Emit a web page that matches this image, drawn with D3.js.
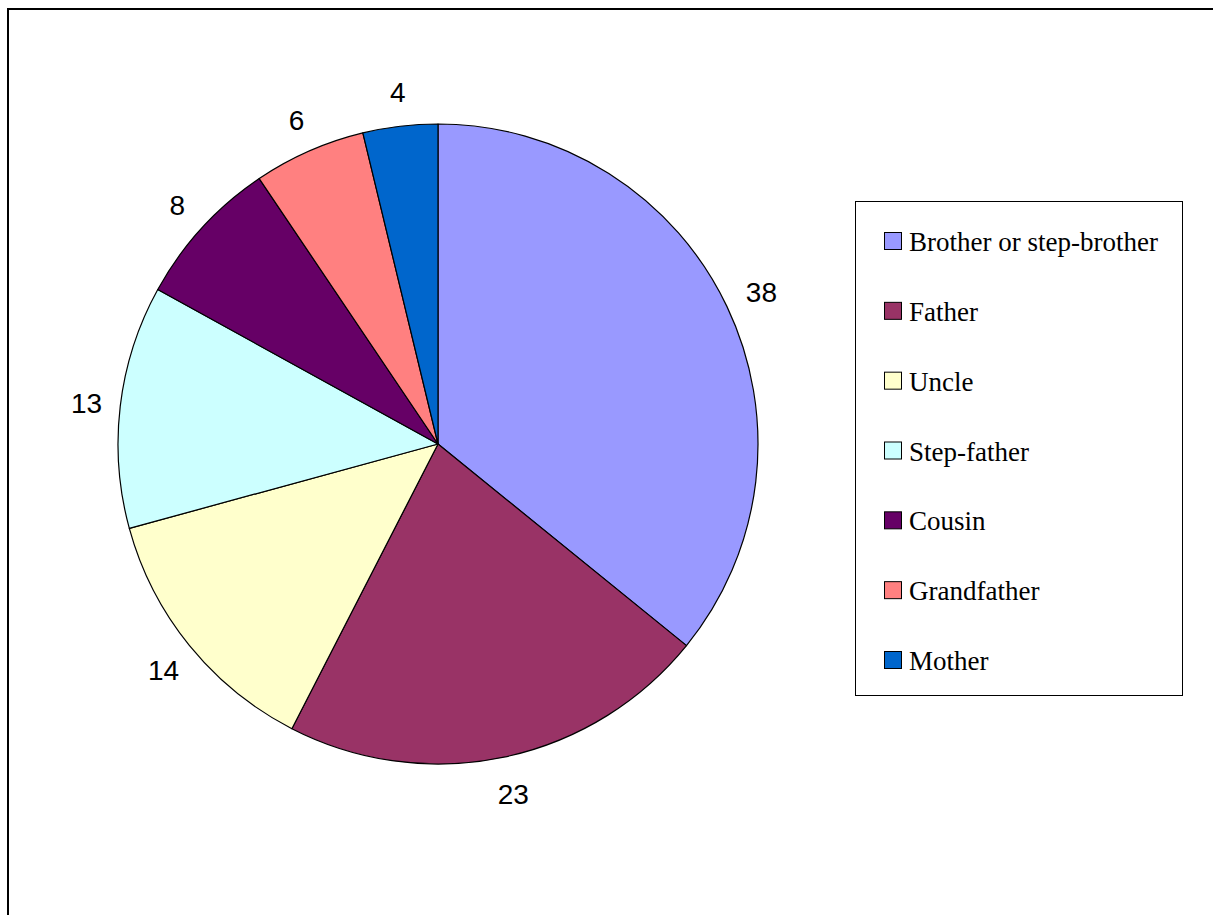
<!DOCTYPE html>
<html>
<head>
<meta charset="utf-8">
<script src="https://cdn.jsdelivr.net/npm/d3@7"></script>
<style>
  html, body { margin: 0; padding: 0; background: #fff; }
  svg { display: block; }
</style>
</head>
<body>
<svg id="chart" width="1213" height="915"></svg>
<script>
// Relationship categories and counts
const categories = ["Brother or step-brother", "Father", "Uncle", "Step-father", "Cousin", "Grandfather", "Mother"];
const values = [38, 23, 14, 13, 8, 6, 4];
const colors = ["#9999FF", "#993366", "#FFFFCC", "#CCFFFF", "#660066", "#FF8080", "#0066CC"];

const svg = d3.select("#chart");
const W = 1213, H = 915;

// Outer chart frame (open to the right and bottom edges)
svg.append("path")
  .attr("d", `M8,${H + 5} V9 H${W + 5}`)
  .attr("fill", "none")
  .attr("stroke", "#000")
  .attr("stroke-width", 2);

const cx = 438, cy = 444, R = 320, labelR = 356;

const data = categories.map((c, i) => ({ name: c, value: values[i], color: colors[i] }));

const pie = d3.pie().value(d => d.value).sort(null)
  .startAngle(0).endAngle(2 * Math.PI);
const arcs = pie(data);

const arc = d3.arc().innerRadius(0).outerRadius(R);
const labelArc = d3.arc().innerRadius(labelR).outerRadius(labelR);

const g = svg.append("g").attr("transform", `translate(${cx},${cy})`);

g.selectAll("path.slice")
  .data(arcs)
  .join("path")
  .attr("class", "slice")
  .attr("d", arc)
  .attr("fill", d => d.data.color)
  .attr("stroke", "#000")
  .attr("stroke-width", 1.2)
  .attr("stroke-linejoin", "round");

g.selectAll("text.val")
  .data(arcs)
  .join("text")
  .attr("class", "val")
  .attr("transform", d => {
    const [x, y] = labelArc.centroid(d);
    return `translate(${x + 2},${y + 2})`;
  })
  .attr("text-anchor", "middle")
  .attr("dominant-baseline", "central")
  .attr("font-family", "Liberation Sans, Arial, sans-serif")
  .attr("font-size", 28)
  .attr("fill", "#000")
  .text(d => d.data.value);

// Legend
const lx = 855, ly = 201, lw = 327, lh = 494;
const legend = svg.append("g");
legend.append("rect")
  .attr("x", lx + 0.5).attr("y", ly + 0.5)
  .attr("width", lw).attr("height", lh)
  .attr("fill", "#fff")
  .attr("stroke", "#000")
  .attr("stroke-width", 1);

const rowY = d3.scalePoint().domain(categories).range([241, 660]);

const items = legend.selectAll("g.item")
  .data(data)
  .join("g")
  .attr("class", "item")
  .attr("transform", d => `translate(0,${rowY(d.name)})`);

items.append("rect")
  .attr("x", 884.5).attr("y", -8.5)
  .attr("width", 17).attr("height", 17)
  .attr("fill", d => d.color)
  .attr("stroke", "#000")
  .attr("stroke-width", 1);

items.append("text")
  .attr("x", 909)
  .attr("y", 1)
  .attr("dominant-baseline", "central")
  .attr("font-family", "Liberation Serif, Times New Roman, serif")
  .attr("font-size", 27)
  .attr("fill", "#000")
  .text(d => d.name);
</script>
</body>
</html>
